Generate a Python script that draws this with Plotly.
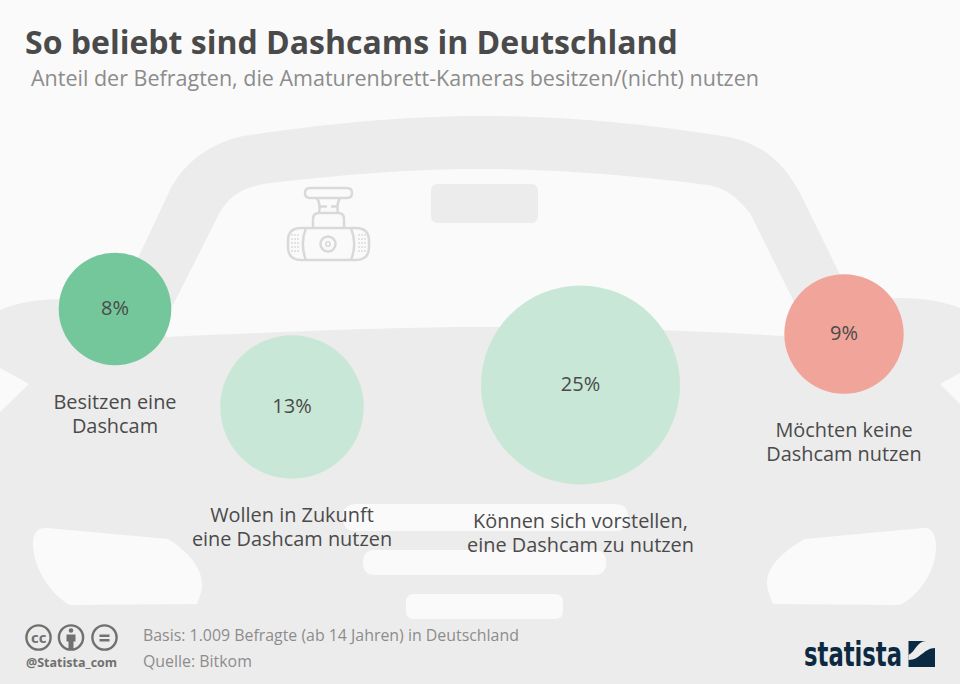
import plotly.graph_objects as go

title = "So beliebt sind Dashcams in Deutschland"
subtitle = "Anteil der Befragten, die Amaturenbrett-Kameras besitzen/(nicht) nutzen"
labels = ["Besitzen eine<br>Dashcam", "Wollen in Zukunft<br>eine Dashcam nutzen",
          "Können sich vorstellen,<br>eine Dashcam zu nutzen", "Möchten keine<br>Dashcam nutzen"]
values = [8, 13, 25, 9]
colors = ["#74c79b", "#c9e7d6", "#c9e7d6", "#f1a59a"]
source1 = "Basis: 1.009 Befragte (ab 14 Jahren) in Deutschland"
source2 = "Quelle: Bitkom"

# layout in picture pixels
bubble_x = [115, 292, 580.5, 844]
bubble_y = [309, 407, 385, 334]
label_y = [417, 530, 536, 445]

BG = "#fafafa"
CAR = "#ececec"
ICON = "#d9d9d9"
TEXT = "#4a4a4a"
GREY = "#8c8c8c"
NAVY = "#0b2a42"
LICENCE = "#707070"
FONT = "Open Sans"

shapes = []


def fill(path, color=CAR):
    shapes.append(dict(type="path", path=path, fillcolor=color, line_width=0, layer="below"))


def stroke(path, width=2.5, color=ICON):
    shapes.append(dict(type="path", path=path, line=dict(color=color, width=width), layer="below"))


def rrect(x0, y0, x1, y1, r):
    return (f"M{x0+r},{y0} L{x1-r},{y0} Q{x1},{y0} {x1},{y0+r} L{x1},{y1-r} Q{x1},{y1} {x1-r},{y1} "
            f"L{x0+r},{y1} Q{x0},{y1} {x0},{y1-r} L{x0},{y0+r} Q{x0},{y0} {x0+r},{y0} Z")


def circle(cx, cy, r, **kw):
    shapes.append(dict(type="circle", x0=cx-r, x1=cx+r, y0=cy-r, y1=cy+r, layer="below", **kw))


# car body
fill("M0,310 C18,302 40,299 70,299 L130,299 L167,337 C300,331 400,327 480,327 "
     "C600,327 700,331 785,336 L850,299 L900,298 C925,298 945,302 960,308 "
     "L960,373 L940,384 L960,404 L960,684 L0,684 L0,412 L29,384 L0,368 Z")
# roof and pillars
fill("M130,275 L170,190 C185,160 215,140 250,135 C330,123 410,116 480,116 "
     "C560,116 640,123 723,136 C760,142 782,160 800,193 L845,285 L796,306 L750,213 "
     "C735,195 725,188 707,185 C630,175 550,169 480,169 C410,169 340,175 270,183 "
     "C245,187 232,193 220,212 L172,307 Z")
# mirror, grille
fill(rrect(431, 184, 538, 223, 7))
fill(rrect(343, 504, 628, 531, 13), BG)
fill(rrect(363, 550, 606, 575, 12), BG)
fill(rrect(406, 594, 563, 619, 8), BG)
# headlights
fill("M47,528 L168,539 C185,550 202,565 202,585 C202,592 199,598 197,604 L70,605 "
     "C52,595 33,570 33,543 C33,533 38,527 47,528 Z", BG)
fill("M805,539 L923,528 C932,527 936,535 936,547 C936,570 920,595 900,605 L773,604 "
     "C770,597 767,590 767,583 C767,565 785,550 805,539 Z", BG)

# dashcam icon
stroke(rrect(305, 188, 352, 198, 5))
stroke("M317,198 C320,203 320,208 319,213 M340,198 C337,203 337,208 338,213 "
       "M319,206.5 L327,206.5 M331,206.5 L338,206.5")
stroke("M313,228 L313,219 Q313,213 319,213 L338,213 Q344,213 344,219 L344,228")
stroke(rrect(288, 228, 369, 260, 13))
stroke("M306,228 C302,238 302,250 306,260 M351,228 C355,238 355,250 351,260")
circle(328, 244, 7.5, line=dict(color=ICON, width=2.5))
circle(328, 244, 2.2, line=dict(color=ICON, width=1.6))
for dot_x in [292, 295, 298, 359, 362, 365]:
    for dot_y in [235, 239, 243, 247, 251]:
        circle(dot_x, dot_y, 0.9, fillcolor=ICON, line_width=0)

# licence icons
for icon_x in [38.5, 71, 104.5]:
    circle(icon_x, 637.5, 12.1, line=dict(color=LICENCE, width=2.4))
circle(71, 630.5, 2.3, fillcolor=LICENCE, line_width=0)
fill("M66.5,634.5 L75.5,634.5 L75.5,641.5 L73.5,641.5 L73.5,649 L68.5,649 L68.5,641.5 L66.5,641.5 Z", LICENCE)
fill("M99.5,634.5 L109.5,634.5 L109.5,637 L99.5,637 Z M99.5,639 L109.5,639 L109.5,641.5 L99.5,641.5 Z", LICENCE)

# statista mark
fill("M908.5,641 L935,641 L935,667 L908.5,667 Z", NAVY)
fill("M935,641 L926,641 C917,641 916,651 908.5,655 L908.5,660 C920,660 924,648 935,648 Z", CAR)

fig = go.Figure()
fig.add_trace(go.Scatter(
    x=bubble_x, y=bubble_y, mode="markers",
    marker=dict(size=values, sizemode="area", sizeref=2 * max(values) / 199 ** 2,
                color=colors, opacity=1, line_width=0),
    hoverinfo="skip", showlegend=False,
))
fig.add_trace(go.Scatter(
    x=bubble_x, y=[y + 1 for y in bubble_y], mode="text",
    text=[f"{v}%" for v in values], textposition="middle center",
    textfont=dict(family=FONT, size=20, color=TEXT),
    hoverinfo="skip", showlegend=False,
))
fig.add_trace(go.Scatter(
    x=bubble_x, y=label_y, mode="text", text=labels, textposition="middle center",
    textfont=dict(family=FONT, size=19.9, color=TEXT),
    hoverinfo="skip", showlegend=False,
))


def note(x, y, text, size, color=TEXT, anchor="left", family=FONT):
    fig.add_annotation(x=x, y=y, text=text, xref="x", yref="y", xanchor=anchor, yanchor="middle",
                       showarrow=False, font=dict(family=family, size=size, color=color), borderpad=0)


note(24, 41, f"<b>{title}</b>", 32)
note(30, 77, subtitle, 21.5, GREY)
note(142, 635, source1, 15.9, GREY)
note(142, 661, source2, 15.9, GREY)
note(25, 662, "<b>@Statista_com</b>", 12.5, LICENCE)
note(38.5, 637, "<b>cc</b>", 15, LICENCE, "center")
note(853, 654, "<b>statista</b>", 34, NAVY, "center", "DejaVu Sans Condensed")

# tighter label lines, and squeeze the wordmark since no narrow bold font is installed
post = """
document.body.style.margin='0';
document.querySelectorAll('.textpoint tspan.line').forEach(function (l) {
  if (parseFloat(l.getAttribute('dy')) > 1) { l.setAttribute('dy', '1.2em'); }
});
document.querySelectorAll('.annotation-text').forEach(function (t) {
  if (t.textContent === 'statista') {
    t.setAttribute('textLength', '98');
    t.setAttribute('lengthAdjust', 'spacingAndGlyphs');
  }
});
"""

fig.update_layout(
    width=960, height=684, margin=dict(l=0, r=0, t=0, b=0),
    paper_bgcolor=BG, plot_bgcolor=BG, shapes=shapes,
    xaxis=dict(range=[0, 960], visible=False, fixedrange=True),
    yaxis=dict(range=[684, 0], visible=False, fixedrange=True),
)
fig.write_html("out.html", post_script=post, config={"displayModeBar": False})
